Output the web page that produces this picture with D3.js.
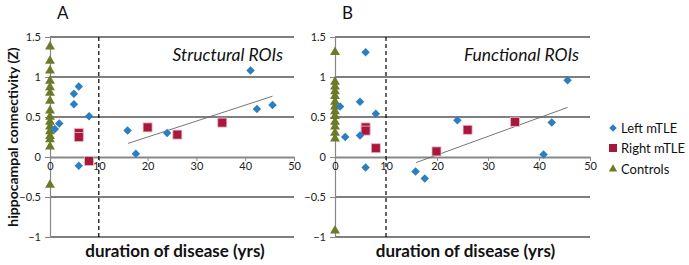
<!DOCTYPE html>
<html><head><meta charset="utf-8">
<script src="https://cdn.jsdelivr.net/npm/d3@7"></script>
<style>
body{margin:0;background:#fff;}
svg{font-family:"Lato","Open Sans",sans-serif;}
</style></head>
<body><svg id="c" width="689" height="265"></svg>
<script>
// ---- data ----
const yTicks = [-1, -0.5, 0, 0.5, 1, 1.5];
const xTicks = [0, 10, 20, 30, 40, 50];
const seriesNames = ["Left mTLE", "Right mTLE", "Controls"];

// Panel A (Structural ROIs)
const leftA_x = [5.9, 4.9, 4.9, 8.0, 1.9, 1.0, 5.9, 41.1, 42.4, 45.6, 15.9, 24.0, 17.6];
const leftA_y = [0.88, 0.79, 0.66, 0.51, 0.42, 0.35, -0.11, 1.08, 0.60, 0.65, 0.33, 0.30, 0.04];
const rightA_x = [5.9, 5.9, 8.0, 20.0, 26.1, 35.3];
const rightA_y = [0.30, 0.25, -0.05, 0.37, 0.28, 0.43];
const controlsA_y = [1.38, 1.20, 1.08, 0.95, 0.87, 0.80, 0.70, 0.58, 0.50, 0.44, 0.38, 0.32, 0.26, 0.22, 0.13, -0.35];
const trendA_x = [16, 45.6];
const trendA_y = [0.17, 0.76];

// Panel B (Functional ROIs)
const leftB_x = [6.0, 1.0, 4.9, 8.0, 24.0, 42.5, 45.6, 2.0, 4.9, 6.0, 15.8, 17.6, 40.9];
const leftB_y = [1.31, 0.63, 0.69, 0.54, 0.46, 0.43, 0.96, 0.25, 0.27, -0.13, -0.18, -0.27, 0.03];
const rightB_x = [6.0, 6.0, 8.0, 19.9, 26.0, 35.3];
const rightB_y = [0.37, 0.33, 0.11, 0.07, 0.34, 0.44];
const controlsB_y = [1.31, 0.94, 0.88, 0.82, 0.76, 0.69, 0.63, 0.57, 0.51, 0.44, 0.38, 0.30, 0.23, -0.92];
const trendB_x = [15.9, 45.6];
const trendB_y = [-0.07, 0.62];

const onsetCut = 10;

// ---- drawing ----
const svg = d3.select("#c");
const blue = "#2a7fc3", red = "#a8173e", olive = "#6b7b2b";

function panel(o) {
  const x = d3.scaleLinear().domain([0, 50]).range([o.x0, o.x1]);
  const y = d3.scaleLinear().domain([-1, 1.5]).range([237, 37]);
  const g = svg.append("g");
  // gridlines
  g.selectAll(".grid").data(yTicks.filter(d => d !== 0)).join("line")
    .attr("x1", o.x0).attr("x2", o.x1).attr("y1", d => y(d)).attr("y2", d => y(d))
    .attr("stroke", "#000").attr("stroke-width", 1.2);
  // y axis
  const ya = g.append("g").attr("transform", `translate(${o.x0},0)`)
    .call(d3.axisLeft(y).tickValues(yTicks).tickSize(5).tickFormat(d3.format("")));
  ya.select(".domain").attr("stroke", "#888").attr("stroke-width", 1.2);
  ya.selectAll(".tick line").attr("stroke", "#888");
  ya.selectAll(".tick text").attr("font-size", 11).attr("fill", "#222").attr("font-family", "Lato, sans-serif").attr("dx", -1);
  // x axis at zero
  const xa = g.append("g").attr("transform", `translate(0,${y(0)})`)
    .call(d3.axisBottom(x).tickValues(xTicks).tickSize(4).tickSizeOuter(0));
  xa.select(".domain").attr("stroke", "#888").attr("stroke-width", 2);
  xa.selectAll(".tick line").attr("stroke", "#888");
  xa.selectAll(".tick text").attr("font-size", 11).attr("fill", "#222").attr("font-family", "Lato, sans-serif").attr("dy", "0.55em");
  // dashed onset line
  g.append("line").attr("x1", x(onsetCut)).attr("x2", x(onsetCut)).attr("y1", 37).attr("y2", 237)
    .attr("stroke", "#000").attr("stroke-width", 1.2).attr("stroke-dasharray", "4,3");
  // trend line
  g.append("line").attr("x1", x(o.tx[0])).attr("x2", x(o.tx[1])).attr("y1", y(o.ty[0])).attr("y2", y(o.ty[1]))
    .attr("stroke", "#666").attr("stroke-width", 0.9);
  // controls triangles
  const tri = d3.symbol().type(d3.symbolTriangle).size(42);
  g.selectAll(".ctl").data(o.cy).join("path").attr("d", tri)
    .attr("transform", d => `translate(${x(0)},${y(d)})`).attr("fill", olive);
  // right squares
  g.selectAll(".rs").data(o.rx.map((v, i) => [v, o.ry[i]])).join("rect")
    .attr("x", d => x(d[0]) - 4.5).attr("y", d => y(d[1]) - 4.5).attr("width", 9).attr("height", 9)
    .attr("fill", red).attr("stroke", "#e9b9c4").attr("stroke-width", 0.8);
  // left diamonds
  g.selectAll(".ld").data(o.lx.map((v, i) => [v, o.ly[i]])).join("path")
    .attr("d", d3.symbol().type(d3.symbolSquare).size(36))
    .attr("transform", d => `translate(${x(d[0])},${y(d[1])}) rotate(45)`).attr("fill", blue);
  // labels
  svg.append("text").attr("x", o.x0 + 7).attr("y", 19).attr("font-size", 17).attr("fill", "#111").text(o.letter);
  svg.append("text").attr("x", o.x1 - 11).attr("y", 61).attr("text-anchor", "end")
    .attr("font-size", 17.5).attr("font-style", "italic").attr("fill", "#111").text(o.title);
  svg.append("text").attr("x", (o.x0 + o.x1) / 2 + 3).attr("y", 257).attr("text-anchor", "middle")
    .attr("font-size", 17).attr("font-weight", "bold").attr("fill", "#111").text("duration of disease (yrs)");
}

panel({x0: 50, x1: 294, letter: "A", title: "Structural ROIs",
  lx: leftA_x, ly: leftA_y, rx: rightA_x, ry: rightA_y, cy: controlsA_y, tx: trendA_x, ty: trendA_y});
panel({x0: 335, x1: 590, letter: "B", title: "Functional ROIs",
  lx: leftB_x, ly: leftB_y, rx: rightB_x, ry: rightB_y, cy: controlsB_y, tx: trendB_x, ty: trendB_y});

// y label
svg.append("text").attr("transform", "translate(18,137) rotate(-90)").attr("text-anchor", "middle")
  .attr("font-size", 14).attr("font-weight", "bold").attr("fill", "#111").text("hippocampal connectivity (Z)");

// legend
const leg = svg.append("g").attr("transform", "translate(613,0)");
const legY = [128, 148, 169];
seriesNames.forEach((n, i) => {
  const gy = legY[i];
  if (i === 0) leg.append("path").attr("d", d3.symbol().type(d3.symbolSquare).size(28)).attr("transform", `translate(0,${gy}) rotate(45)`).attr("fill", blue);
  if (i === 1) leg.append("rect").attr("x", -4).attr("y", gy - 4).attr("width", 8).attr("height", 8).attr("fill", red);
  if (i === 2) leg.append("path").attr("d", d3.symbol().type(d3.symbolTriangle).size(30)).attr("transform", `translate(0,${gy})`).attr("fill", olive);
  leg.append("text").attr("x", 8).attr("y", gy).attr("dy", "0.35em").attr("font-size", 13).attr("fill", "#111").text(n);
});
</script></body></html>
